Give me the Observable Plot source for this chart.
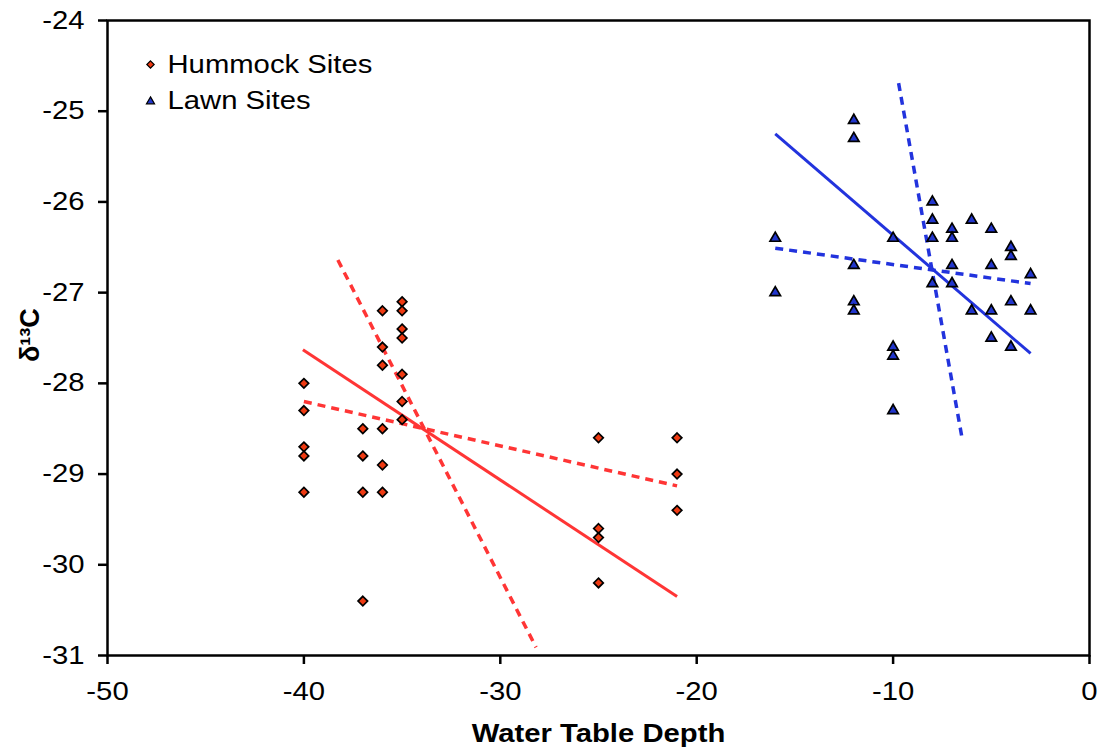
<!DOCTYPE html>
<html>
<head>
<meta charset="utf-8">
<script src="https://cdn.jsdelivr.net/npm/d3@7"></script>
<script src="https://cdn.jsdelivr.net/npm/@observablehq/plot@0.6"></script>
<style>
  html, body { margin: 0; padding: 0; background: #fff; }
  #chart { width: 1100px; height: 751px; }
</style>
</head>
<body>
<div id="chart"></div>
<script>
// ---- data ----
const hummockX = [-40,-40,-40,-40,-40, -37,-37,-37,-37, -36,-36,-36,-36,-36,-36, -35,-35,-35,-35,-35,-35,-35, -25,-25,-25,-25, -21,-21,-21];
const hummockY = [-28.0,-28.3,-28.7,-28.8,-29.2, -28.5,-28.8,-29.2,-30.4, -27.2,-27.6,-27.8,-28.5,-28.9,-29.2, -27.1,-27.2,-27.4,-27.5,-27.9,-28.2,-28.4, -28.6,-29.6,-29.7,-30.2, -28.6,-29.0,-29.4];

const lawnX = [-16,-16, -12,-12,-12,-12,-12, -10,-10,-10,-10, -8,-8,-8,-8, -7,-7,-7,-7, -6,-6, -5,-5,-5,-5, -4,-4,-4,-4, -3,-3];
const lawnY = [-26.4,-27.0, -25.1,-25.3,-26.7,-27.1,-27.2, -26.4,-27.6,-27.7,-28.3, -26.0,-26.2,-26.4,-26.9, -26.3,-26.4,-26.7,-26.9, -26.2,-27.2, -26.3,-26.7,-27.2,-27.5, -26.5,-26.6,-27.1,-27.6, -26.8,-27.2];

// fitted lines (end points)
const hummockFitX = [-40.05, -21];   const hummockFitY = [-27.63, -30.35];
const hummockDashAX = [-40, -21];    const hummockDashAY = [-28.2, -29.13];
const hummockDashBX = [-38.27, -28.18]; const hummockDashBY = [-26.64, -30.91];
const lawnFitX = [-16, -3];          const lawnFitY = [-25.25, -27.67];
const lawnDashAX = [-16, -3];        const lawnDashAY = [-26.51, -26.9];
const lawnDashBX = [-9.72, -6.5];    const lawnDashBY = [-24.69, -28.59];

const xTicks = [-50, -40, -30, -20, -10, 0];
const yTicks = [-31, -30, -29, -28, -27, -26, -25, -24];
const seriesNames = ["Hummock Sites", "Lawn Sites"];
const xTitle = "Water Table Depth";
const yTitle = "δ¹³C";

// ---- build tables ----
const zip = (xs, ys) => xs.map((x, i) => ({x, y: ys[i]}));
const hummock = zip(hummockX, hummockY);
const lawn = zip(lawnX, lawnY);

const RED_FILL = "#ee3a12", RED_LINE = "#ff3535";
const BLUE_FILL = "#2236cc", BLUE_LINE = "#2233dd";
const FONT = "'Liberation Sans', Helvetica, Arial, sans-serif";

const lineOpts = (color, dashed) => ({x: "x", y: "y", stroke: color, strokeWidth: dashed ? 3.5 : 3,
  strokeDasharray: dashed ? "8,6" : null, strokeLinecap: "butt"});

const chart = Plot.plot({
  width: 1100,
  height: 751,
  marginLeft: 107,
  marginRight: 11,
  marginTop: 20,
  marginBottom: 96,
  style: {fontFamily: FONT, background: "#fff", color: "#000"},
  x: {domain: [-50, 0]},
  y: {domain: [-31, -24]},
  marks: [
    Plot.line(zip(hummockDashBX, hummockDashBY), lineOpts(RED_LINE, true)),
    Plot.line(zip(hummockDashAX, hummockDashAY), lineOpts(RED_LINE, true)),
    Plot.line(zip(hummockFitX, hummockFitY), lineOpts(RED_LINE, false)),
    Plot.line(zip(lawnDashBX, lawnDashBY), lineOpts(BLUE_LINE, true)),
    Plot.line(zip(lawnDashAX, lawnDashAY), lineOpts(BLUE_LINE, true)),
    Plot.line(zip(lawnFitX, lawnFitY), lineOpts(BLUE_LINE, false)),
    Plot.dot(hummock, {x: "x", y: "y", symbol: "diamond2", r: 4.3, fill: RED_FILL, stroke: "#000", strokeWidth: 1.7}),
    Plot.dot(lawn, {x: "x", y: "y", symbol: "triangle", r: 3.9, fill: BLUE_FILL, stroke: "#000", strokeWidth: 1.7}),
    // legend
    Plot.dot([seriesNames[0]], {frameAnchor: "top-left", dx: 43, dy: 44, symbol: "diamond2", r: 3.3, fill: RED_FILL, stroke: "#000", strokeWidth: 1.2}),
    Plot.dot([seriesNames[1]], {frameAnchor: "top-left", dx: 43, dy: 81, symbol: "triangle", r: 3, fill: BLUE_FILL, stroke: "#000", strokeWidth: 1.2}),
    Plot.text([seriesNames[0]], {text: d => d, frameAnchor: "top-left", dx: 60, dy: 44, textAnchor: "start", lineAnchor: "middle", fontSize: 25, fill: "#000"}),
    Plot.text([seriesNames[1]], {text: d => d, frameAnchor: "top-left", dx: 60, dy: 80, textAnchor: "start", lineAnchor: "middle", fontSize: 25, fill: "#000"}),
    // axes
    Plot.axisX({ticks: xTicks, tickFormat: d => String(d), tickSize: 9, tickPadding: 18, fontSize: 25, strokeWidth: 2.5, label: null}),
    Plot.axisY({ticks: yTicks, tickFormat: d => String(d), tickSize: 9, tickPadding: 14, fontSize: 25, strokeWidth: 2.5, label: null}),
    Plot.frame({stroke: "#000", strokeWidth: 2.5}),
    // axis titles
    Plot.text([xTitle], {text: d => d, frameAnchor: "bottom", dy: 78, lineAnchor: "middle", fontSize: 25, fontWeight: "bold", fill: "#000"}),
    Plot.text([yTitle], {text: d => d, frameAnchor: "left", dx: -77, dy: 24, rotate: -90, lineAnchor: "middle", fontSize: 27, fontWeight: "bold", fill: "#000"})
  ]
});

document.getElementById("chart").appendChild(chart);

// The reference artwork is horizontally stretched; widen horizontal texts to match.
const STRETCH = 1.17;
chart.querySelectorAll("text").forEach(t => {
  const tr = t.getAttribute("transform") || "";
  if (tr.includes("rotate")) return;
  const len = t.getComputedTextLength();
  if (len > 0) {
    t.setAttribute("textLength", (len * STRETCH).toFixed(1));
    t.setAttribute("lengthAdjust", "spacingAndGlyphs");
  }
});
</script>
</body>
</html>
